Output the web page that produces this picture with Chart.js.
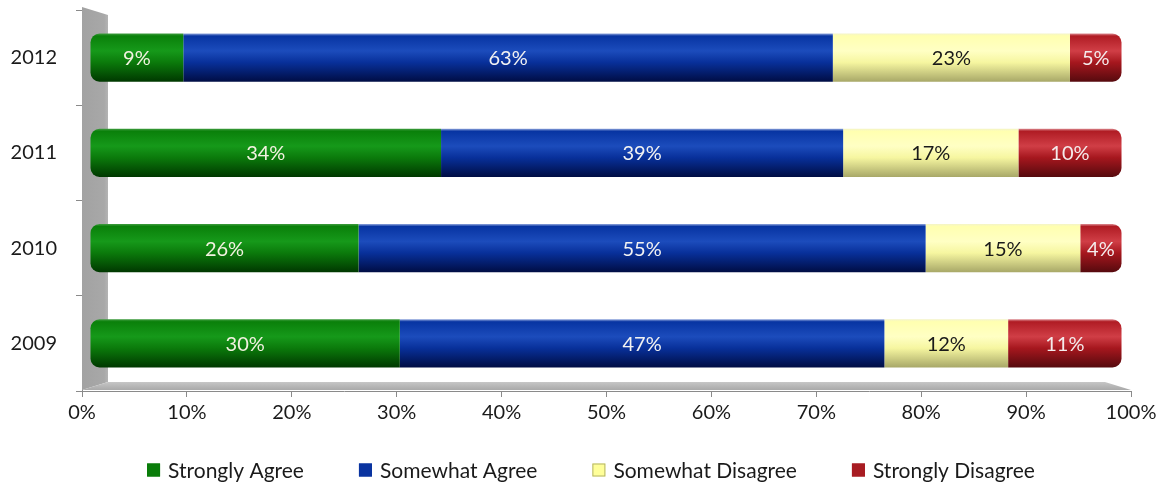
<!DOCTYPE html>
<html><head><meta charset="utf-8">
<script src="https://cdn.jsdelivr.net/npm/chart.js@4/dist/chart.umd.min.js"></script>
<style>html,body{margin:0;padding:0;background:#fff}#wrap{width:1167px;height:487px}</style>
</head><body><div id="wrap"><canvas id="c" width="1167" height="487"></canvas></div>
<script>
// ---- data ----
const years = ['2012', '2011', '2010', '2009'];
const seriesNames = ['Strongly Agree', 'Somewhat Agree', 'Somewhat Disagree', 'Strongly Disagree'];
const stronglyAgree = [9, 34, 26, 30];
const somewhatAgree = [63, 39, 55, 47];
const somewhatDisagree = [23, 17, 15, 12];
const stronglyDisagree = [5, 10, 4, 11];
const xTickValues = [0, 10, 20, 30, 40, 50, 60, 70, 80, 90, 100];

// ---- styles ----
const FONT = 'Lato, "Open Sans", sans-serif';
const PAL = [
  {edge:'#3f9c3f', top:'#0a800a', hi:'#16991a', base:'#0b7a0b', dark:'#003800', flat:'#0a7d0a', stroke:'#0a7d0a', text:'#f2f2e0'},
  {edge:'#8ea4dc', top:'#0734a2', hi:'#1c4cbc', base:'#08309a', dark:'#000d44', flat:'#0a34a0', stroke:'#0a34a0', text:'#f2f2f2'},
  {edge:'#f4f4c8', top:'#ffffb0', hi:'#ffffc4', base:'#f6f6a0', dark:'#a8a868', flat:'#ffff99', stroke:'#b4b46a', text:'#1a1a1a'},
  {edge:'#dc8a90', top:'#b01c24', hi:'#d03e46', base:'#a6171e', dark:'#560a0e', flat:'#a81c22', stroke:'#a81c22', text:'#f4ecec'}
];
const BAR_PCT = 0.505;
const AXIS_COLOR = '#8a8a8a';

function barFill(i) {
  return (ctx) => {
    const p = PAL[i];
    if (ctx.type !== 'data') return p.flat;
    const chart = ctx.chart;
    const ys = chart.scales.y;
    if (!ys || !chart.chartArea) return p.flat;
    const c = ys.getPixelForValue(ctx.dataIndex);
    const h = ys.height / years.length * BAR_PCT;
    const g = chart.ctx.createLinearGradient(0, c - h / 2, 0, c + h / 2);
    g.addColorStop(0, p.edge);
    g.addColorStop(0.05, p.top);
    g.addColorStop(0.36, p.hi);
    g.addColorStop(0.6, p.base);
    g.addColorStop(1, p.dark);
    return g;
  };
}

const seriesValues = [stronglyAgree, somewhatAgree, somewhatDisagree, stronglyDisagree];
const datasets = seriesValues.map((vals, i) => ({
  label: seriesNames[i],
  data: vals,
  xAxisID: 'xb',
  yAxisID: 'y',
  backgroundColor: barFill(i),
  borderWidth: 0,
  borderSkipped: false,
  borderRadius: i === 0 ? {topLeft: 9, bottomLeft: 9, topRight: 0, bottomRight: 0}
              : i === 3 ? {topLeft: 0, bottomLeft: 0, topRight: 9, bottomRight: 9} : 0,
  barPercentage: BAR_PCT,
  categoryPercentage: 1
}));

// 3D wall and floor
const wallPlugin = {
  id: 'wall',
  beforeDatasetsDraw(chart) {
    const {ctx, chartArea: a} = chart;
    const dx = 26, dy = 8;
    const L = a.left, R = a.right, B = a.bottom - 1, T = a.top - 3;
    ctx.save();
    let g = ctx.createLinearGradient(L, 0, L + dx, 0);
    g.addColorStop(0, '#a2a2a2');
    g.addColorStop(0.85, '#a8a8a8');
    g.addColorStop(1, '#b4b4b4');
    ctx.fillStyle = g;
    ctx.beginPath();
    ctx.moveTo(L, T); ctx.lineTo(L + dx, T + dy); ctx.lineTo(L + dx, B - dy); ctx.lineTo(L, B);
    ctx.closePath(); ctx.fill();
    g = ctx.createLinearGradient(0, B - dy, 0, B);
    g.addColorStop(0, '#c6c6c6');
    g.addColorStop(1, '#a9a9a9');
    ctx.fillStyle = g;
    ctx.beginPath();
    ctx.moveTo(L, B); ctx.lineTo(L + dx, B - dy); ctx.lineTo(R - dx, B - dy); ctx.lineTo(R, B);
    ctx.closePath(); ctx.fill();
    ctx.restore();
  }
};

// value labels
const labelPlugin = {
  id: 'vlabels',
  afterDatasetsDraw(chart) {
    const ctx = chart.ctx;
    ctx.save();
    ctx.font = '20px ' + FONT;
    ctx.textAlign = 'center';
    ctx.textBaseline = 'middle';
    chart.data.datasets.forEach((ds, i) => {
      const meta = chart.getDatasetMeta(i);
      ctx.fillStyle = PAL[i].text;
      meta.data.forEach((el, j) => {
        const x = (el.x + el.base) / 2;
        ctx.fillText(ds.data[j] + '%', x, el.y + 1);
      });
    });
    ctx.restore();
  }
};

// legend
const legendPlugin = {
  id: 'legendRow',
  afterDraw(chart) {
    const ctx = chart.ctx;
    ctx.save();
    ctx.font = '21px ' + FONT;
    ctx.textBaseline = 'middle';
    ctx.textAlign = 'left';
    const box = 13, gapBox = 8, gapItem = 55, y = 470;
    const widths = seriesNames.map(n => ctx.measureText(n).width);
    const total = widths.reduce((s, w) => s + box + gapBox + w, 0) + gapItem * (seriesNames.length - 1);
    let x = 591 - total / 2;
    seriesNames.forEach((n, i) => {
      ctx.fillStyle = PAL[i].flat;
      ctx.fillRect(x, y - box / 2, box, box);
      ctx.strokeStyle = PAL[i].stroke;
      ctx.lineWidth = 1;
      ctx.strokeRect(x + 0.5, y - box / 2 + 0.5, box - 1, box - 1);
      ctx.fillStyle = '#1a1a1a';
      ctx.fillText(n, x + box + gapBox, y + 1);
      x += box + gapBox + widths[i] + gapItem;
    });
    ctx.restore();
  }
};

new Chart(document.getElementById('c'), {
  type: 'bar',
  data: { labels: years, datasets },
  options: {
    indexAxis: 'y',
    responsive: false,
    animation: false,
    events: [],
    layout: { autoPadding: false, padding: { top: 10, right: 36, bottom: 62, left: 0 } },
    plugins: { legend: { display: false }, tooltip: { enabled: false } },
    scales: {
      x: {
        type: 'linear', position: 'bottom', min: 0, max: 100,
        afterBuildTicks: (s) => { s.ticks = xTickValues.map(v => ({value: v})); },
        afterFit: (s) => { s.height = 34; s.paddingTop = 0; s.paddingBottom = 0; },
        ticks: { callback: (v) => v + '%', font: { family: FONT, size: 20 }, color: '#1a1a1a', padding: 4, maxRotation: 0 },
        grid: { drawOnChartArea: false, drawTicks: true, tickLength: 6, color: AXIS_COLOR },
        border: { color: AXIS_COLOR }
      },
      xb: {
        type: 'linear', display: false, position: 'bottom', stacked: true, min: -0.824, max: 100.92,
        afterFit: (s) => { s.height = 0; }
      },
      y: {
        type: 'category', stacked: true, offset: true,
        afterFit: (s) => { s.width = 82; s.paddingTop = 0; s.paddingBottom = 0; },
        ticks: { font: { family: FONT, size: 20 }, color: '#1a1a1a', padding: 19 },
        grid: { drawOnChartArea: false, drawTicks: true, tickLength: 6, color: AXIS_COLOR, offset: true },
        border: { color: AXIS_COLOR }
      }
    }
  },
  plugins: [wallPlugin, labelPlugin, legendPlugin]
});
</script>
</body></html>
